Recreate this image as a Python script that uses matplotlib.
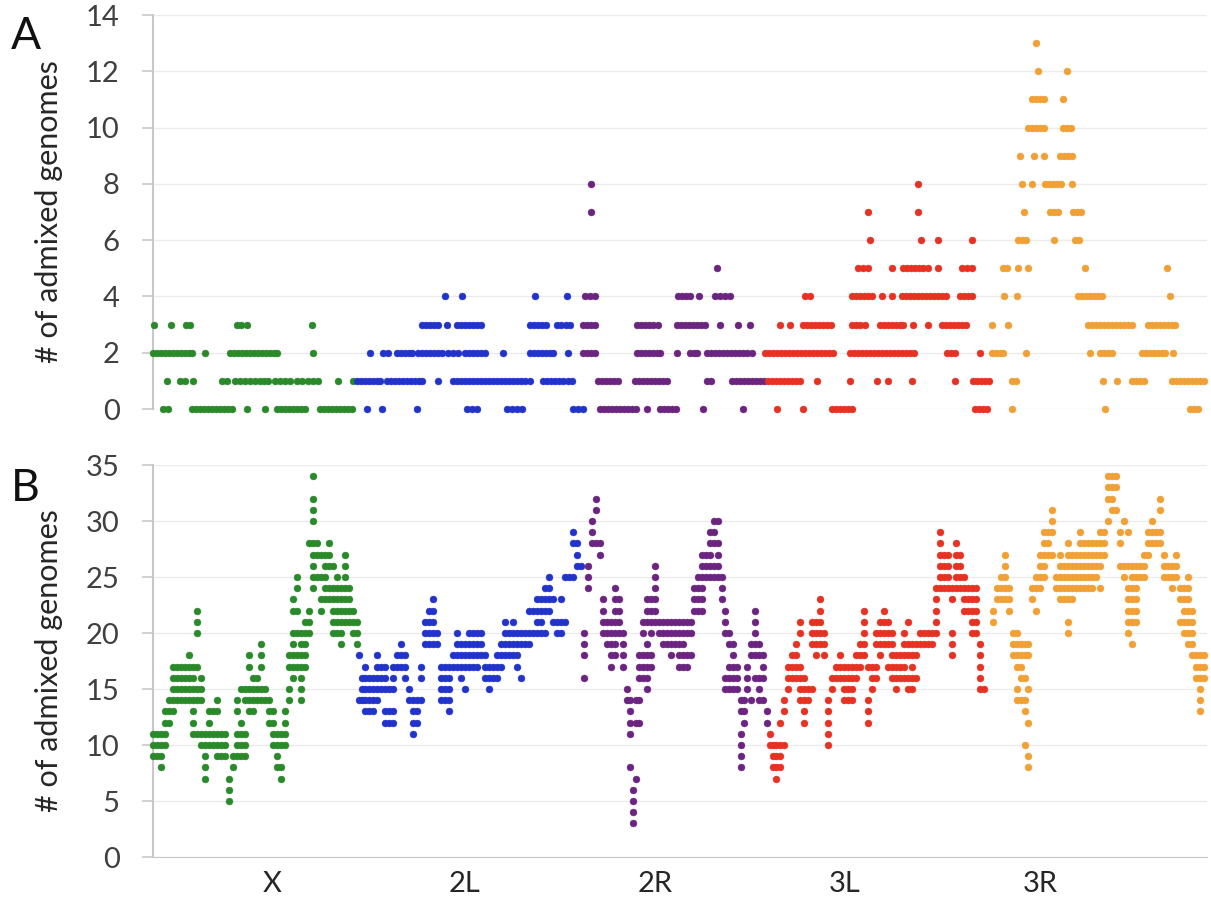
import matplotlib.pyplot as plt

plt.rcParams['font.family'] = ['Lato', 'DejaVu Sans']

chroms = ['X', '2L', '2R', '3L', '3R']
colors = ['#2a8a2a', '#2233cc', '#6b2480', '#e63222', '#f0a035']
tick_pos = [272, 465, 655, 845, 1040]

# panel A: (number of admixed genomes, window positions)
a_X = [
    (3, [154, 171, 186, 190, 237, 241, 247, 312]),
    (2, [153, 157, 161, 165, 169, 173, 177, 181, 185, 189, 192, 205, 230, 234, 238, 242, 246, 250,
         254, 258, 262, 266, 270, 274, 277, 313]),
    (1, [167, 180, 185, 193, 222, 227, 235, 240, 245, 250, 255, 260, 264, 268, 275, 280, 285, 290,
         297, 302, 308, 313, 318, 338, 353]),
    (0, [163, 168, 192, 196, 200, 204, 208, 212, 216, 220, 224, 228, 232, 247, 265, 277, 281, 285,
         289, 293, 297, 301, 305, 320, 324, 328, 332, 336, 340, 344, 348, 352]),
]
a_2L = [
    (4, [445, 462, 535, 567]),
    (3, [422, 426, 430, 434, 438, 447, 457, 461, 465, 469, 473, 477, 481, 530, 534, 538, 542, 546,
         557, 561, 566, 570]),
    (2, [370, 383, 388, 397, 401, 405, 409, 412, 418, 422, 426, 430, 434, 438, 442, 448, 453, 458,
         465, 469, 473, 477, 481, 485, 503, 530, 534, 538, 542, 546, 550, 553, 568]),
    (1, [357, 361, 365, 369, 373, 377, 380, 387, 391, 395, 399, 403, 407, 411, 415, 419, 422, 438,
         453, 457, 461, 465, 469, 473, 477, 481, 485, 489, 493, 497, 501, 505, 509, 513, 517, 521,
         525, 530, 543, 547, 551, 555, 559, 563, 568, 572]),
    (0, [367, 382, 417, 467, 472, 477, 507, 512, 517, 522, 573, 578, 583]),
]
a_2R = [
    (8, [591]),
    (7, [591]),
    (5, [717]),
    (4, [585, 590, 595, 678, 682, 686, 690, 699, 715, 720, 725, 730]),
    (3, [583, 587, 591, 595, 637, 641, 645, 649, 653, 658, 677, 681, 685, 689, 693, 697, 701, 705,
         720, 738, 750]),
    (2, [583, 587, 591, 595, 637, 641, 645, 649, 653, 657, 660, 677, 690, 694, 697, 707, 711, 715,
         719, 723, 727, 731, 735, 739, 743, 747, 752]),
    (1, [598, 602, 606, 610, 614, 618, 635, 639, 643, 647, 651, 655, 659, 663, 667, 707, 711, 732,
         736, 740, 744, 748, 752, 756, 760, 764]),
    (0, [600, 604, 608, 612, 616, 620, 624, 628, 632, 636, 647, 660, 664, 668, 672, 676, 703, 743]),
]
a_3L = [
    (8, [918]),
    (7, [868, 918]),
    (6, [870, 921, 938, 972]),
    (5, [858, 863, 868, 892, 903, 907, 911, 915, 919, 923, 928, 938, 962, 967, 972]),
    (4, [805, 810, 852, 856, 860, 864, 868, 872, 882, 892, 902, 906, 910, 914, 918, 922, 926, 930,
         934, 938, 942, 946, 960, 964, 968, 972]),
    (3, [780, 790, 803, 807, 811, 815, 819, 823, 827, 831, 852, 856, 860, 865, 880, 884, 888, 892,
         896, 900, 903, 913, 928, 942, 946, 950, 954, 958, 962, 966]),
    (2, [765, 769, 773, 777, 781, 785, 789, 793, 797, 801, 805, 809, 813, 817, 821, 825, 829, 833,
         850, 854, 858, 862, 866, 870, 874, 878, 882, 886, 890, 894, 898, 902, 906, 910, 914, 947,
         951, 955, 980]),
    (1, [768, 772, 776, 780, 784, 788, 792, 796, 800, 817, 850, 877, 888, 912, 955, 973, 977, 981,
         985, 989]),
    (0, [777, 803, 832, 836, 840, 844, 848, 852, 975, 979, 983, 987]),
]
a_3R = [
    (13, [1036]),
    (12, [1038, 1067]),
    (11, [1032, 1036, 1040, 1044, 1063]),
    (10, [1028, 1032, 1036, 1040, 1044, 1063, 1067, 1071]),
    (9, [1020, 1034, 1044, 1060, 1064, 1068, 1072]),
    (8, [1022, 1032, 1045, 1049, 1053, 1057, 1061, 1072]),
    (7, [1024, 1050, 1054, 1058, 1073, 1077, 1081]),
    (6, [1018, 1022, 1026, 1054, 1075, 1079]),
    (5, [1003, 1007, 1018, 1028, 1085, 1167]),
    (4, [1004, 1017, 1078, 1082, 1086, 1090, 1094, 1098, 1102, 1170]),
    (3, [992, 1008, 1088, 1092, 1096, 1100, 1104, 1108, 1112, 1116, 1120, 1124, 1128, 1132, 1148,
         1152, 1156, 1160, 1164, 1168, 1172, 1175]),
    (2, [992, 996, 1000, 1003, 1026, 1090, 1100, 1104, 1108, 1112, 1142, 1146, 1150, 1154, 1158,
         1162, 1165, 1173]),
    (1, [1012, 1016, 1103, 1117, 1132, 1136, 1140, 1144, 1172, 1176, 1180, 1184, 1188, 1192, 1196,
         1200, 1204]),
    (0, [1012, 1105, 1190, 1194, 1198]),
]

# panel B: (window position, numbers of admixed genomes)
b_X = [
    (153, [11, 10, 9]), (157, [11, 10, 9]), (161, [11, 10, 9, 8]), (165, [13, 12, 11, 10]),
    (169, [14, 13, 12]), (173, [17, 16, 15, 14, 13]), (177, [17, 16, 15, 14]), (181, [17, 16, 15, 14]),
    (185, [17, 16, 15, 14]), (189, [18, 17, 16, 15, 14]), (193, [17, 16, 15, 14, 13, 12, 11]),
    (197, [22, 21, 20, 17, 15, 14, 11]), (201, [16, 15, 14, 11, 10]), (205, [11, 10, 9, 8, 7]),
    (209, [13, 12, 11, 10]), (213, [13, 11, 10]), (217, [14, 13, 11, 10, 9]), (221, [11, 10, 9]),
    (225, [11, 10, 9]), (229, [7, 6, 5]), (233, [9, 8]), (237, [14, 13, 11, 10, 9]),
    (241, [15, 12, 11, 10, 9]), (245, [15, 14, 11, 10, 9]), (249, [18, 17, 15, 14, 13]),
    (253, [16, 15, 14, 13]), (257, [16, 15, 14]), (261, [19, 18, 17, 15, 14]), (265, [15, 14]),
    (269, [14, 13, 12]), (273, [13, 12, 11, 10]), (277, [11, 10, 9, 8]), (281, [11, 10, 8, 7]),
    (285, [13, 12, 11, 10]), (289, [18, 17, 15, 14]), (293, [23, 22, 20, 19, 18, 17, 16]),
    (297, [25, 24, 22, 20, 18, 17]), (301, [20, 19, 18, 17, 16, 15, 14]), (305, [21, 20, 19, 18, 17]),
    (309, [28, 22, 21, 20]), (313, [34, 32, 31, 30, 28, 27, 26, 25, 24]), (317, [28, 27, 25]),
    (321, [27, 25, 23, 22]), (325, [27, 26, 25, 24, 23]), (329, [28, 27, 26, 24, 23]),
    (333, [26, 24, 23, 22, 21, 20]), (337, [25, 24, 23, 22, 21, 20]), (341, [24, 23, 22, 21, 20, 19]),
    (345, [27, 26, 25, 24, 23, 22, 21]), (349, [24, 23, 22, 21]), (353, [22, 21, 20]), (357, [21, 20, 19]),
]
b_2L = [
    (359, [18, 14]), (362, [16, 15, 14]), (365, [17, 16, 15, 14, 13]), (369, [16, 15, 14, 13]),
    (373, [16, 15, 14, 13]), (377, [18, 17, 16, 15, 14]), (381, [17, 16, 15]), (385, [17, 16, 15, 13, 12]),
    (389, [15, 13, 12]), (393, [17, 16, 15, 13, 12]), (397, [18, 17]), (401, [19, 18, 17]),
    (405, [18, 17, 16]), (409, [15, 14]), (413, [14, 13, 12, 11]), (417, [14, 13, 12]),
    (421, [17, 16, 14]), (425, [21, 20, 19]), (429, [22, 21, 20, 19]), (433, [23, 22, 21, 20, 19]),
    (437, [20, 19]), (441, [17, 16, 15, 14]), (445, [17, 16, 15, 14]), (449, [17, 16, 15, 14, 13]),
    (453, [18, 17]), (457, [20, 19, 18, 17]), (461, [19, 18, 17, 16]), (465, [19, 18, 17, 15]),
    (469, [20, 19, 18, 17]), (473, [20, 19, 18, 17]), (477, [20, 19, 18, 17]), (481, [20, 19, 18]),
    (485, [18, 17, 16]), (489, [17, 16, 15]), (493, [17, 16]), (497, [18, 17, 16]), (501, [19, 18, 17]),
    (505, [21, 20, 19, 18]), (509, [20, 19, 18]), (513, [21, 20, 19, 18]), (517, [20, 19, 18, 17]),
    (521, [20, 19, 16]), (525, [20, 19]), (529, [22, 20, 19]), (533, [22, 20]), (537, [23, 22, 21, 20]),
    (541, [23, 22, 21, 20]), (545, [24, 23, 22, 20]), (549, [25, 24, 23, 22]), (553, [23, 21]),
    (557, [21, 20]), (561, [23, 21, 20]), (565, [25, 21]), (569, [25]), (573, [29, 28, 25]),
    (577, [28, 27, 26]), (581, [26]),
]
b_2R = [
    (584, [20, 19, 18, 16]), (588, [26, 25, 24]), (592, [30, 29, 28]), (596, [32, 31, 28]),
    (600, [28, 27]), (603, [23, 22, 21, 20]), (607, [21, 20, 19]), (611, [21, 20, 19, 18, 17]),
    (615, [24, 23, 22, 21, 20, 19, 18]), (619, [23, 22, 21, 20]), (623, [20, 19, 18, 17]),
    (627, [15, 14]), (630, [14, 13, 12, 11, 8]), (633, [6, 5, 4, 3]), (636, [14, 12, 7]),
    (639, [18, 17, 16, 14, 12]), (643, [21, 20, 18, 17, 16]), (647, [23, 22, 21, 19, 18, 17, 16, 15]),
    (651, [23, 22, 21, 20, 18, 17]), (655, [26, 25, 24, 23, 22, 21]), (659, [21, 20]),
    (663, [21, 20, 19]), (667, [21, 20, 19]), (671, [21, 20, 19, 18]), (675, [21, 20, 19]),
    (679, [21, 20, 19, 18, 17]), (683, [21, 20, 19, 18, 17]), (687, [21, 20, 18, 17]),
    (691, [21, 20, 18]), (694, [24, 23, 22]), (698, [25, 24, 23, 22]), (702, [27, 26, 25, 24, 23, 22]),
    (706, [27, 26, 25]), (710, [29, 28, 27, 26, 25]), (714, [30, 29, 28, 26, 25]),
    (718, [30, 28, 27, 26, 25]), (722, [25, 24, 23]), (725, [22, 21, 20, 16, 15]),
    (729, [20, 19, 17, 16, 15]), (733, [19, 18, 17, 16, 15]), (737, [17, 16, 15]),
    (741, [14, 13, 11, 10, 9, 8]), (744, [14, 13, 12]), (747, [17, 16, 15]), (751, [19, 18, 14]),
    (755, [22, 21, 20, 19, 18, 16]), (759, [19, 18, 16, 15, 14]), (763, [18, 17, 16, 14]),
    (767, [13, 12]),
]
b_3L = [
    (770, [11, 10]), (773, [10, 9, 8]), (776, [10, 9, 8, 7]), (780, [12, 10, 9, 8]), (784, [14, 13, 10]),
    (788, [17, 16, 15]), (792, [18, 17, 16]), (796, [19, 18, 17, 16]), (800, [21, 20, 17, 16, 15, 14]),
    (804, [16, 15, 14, 13, 12]), (808, [15, 14]), (812, [21, 20, 19, 15]), (816, [21, 20, 19, 18]),
    (820, [23, 22, 21, 20, 19]), (824, [20, 19, 18]), (828, [14, 13, 12, 11, 10]), (832, [16, 15]),
    (836, [17, 16]), (840, [18, 17, 16]), (844, [17, 16, 15, 14]), (848, [17, 16, 15, 14]),
    (852, [17, 16, 15, 14]), (856, [18, 17, 16]), (860, [19, 18, 17]), (864, [22, 21, 20, 19, 18]),
    (868, [17, 14, 13, 12]), (872, [17, 16, 15]), (876, [20, 19, 17, 16]), (880, [21, 20, 19, 18]),
    (884, [22, 21, 20, 19]), (888, [21, 20, 19, 17]), (892, [20, 19, 18, 17, 16]), (896, [18, 17, 16, 15]),
    (900, [18, 17, 16]), (904, [20, 19, 18, 17, 16]), (908, [21, 19, 18, 16, 15]),
    (912, [19, 18, 17, 16, 15]), (916, [19, 18, 16]), (920, [20, 19]), (924, [20, 19]), (928, [20, 19]),
    (932, [20, 19]), (936, [24, 23, 22, 21, 20]), (940, [29, 28, 27, 26, 25, 24]), (944, [27, 26, 25, 24]),
    (948, [27, 26, 25, 24]), (952, [24, 23, 20, 19, 18]), (956, [28, 27, 26, 25, 24]),
    (960, [27, 26, 25, 24]), (964, [25, 24, 23, 22]), (968, [24, 23, 22]), (972, [24, 23, 22, 21, 20]),
    (976, [24, 23, 22, 21, 20]), (980, [19, 18, 17, 16, 15]), (984, [15]),
]
b_3R = [
    (993, [22, 21]), (997, [24, 23]), (1001, [25, 24, 23]), (1005, [27, 26, 25, 24, 23]),
    (1009, [24, 23, 22]), (1013, [20, 19, 18]), (1017, [20, 19, 18, 17, 15, 14]),
    (1021, [19, 18, 17, 16, 14]), (1025, [19, 18, 16, 14, 13, 10]), (1028, [19, 18, 15, 12, 9, 8]),
    (1032, [24, 23]), (1036, [25, 24, 22]), (1040, [27, 26, 25, 24]), (1044, [29, 28, 27, 26, 25]),
    (1048, [29, 28, 27]), (1052, [31, 30, 29, 27]), (1056, [25, 24]), (1060, [27, 26, 25, 24, 23]),
    (1064, [26, 25, 24, 23]), (1068, [28, 27, 26, 25, 24, 23, 21, 20]), (1072, [27, 26, 25, 24, 23]),
    (1076, [27, 26, 25, 24]), (1080, [29, 28, 27, 26, 25, 24]), (1084, [28, 27, 26, 25, 24]),
    (1088, [28, 27, 26, 25, 24]), (1092, [28, 27, 26, 25, 24]), (1096, [28, 27, 26, 25]),
    (1100, [29, 28, 27, 26, 24]), (1104, [29, 28, 27]), (1108, [34, 33, 32, 30]), (1112, [34, 33, 32, 31]),
    (1116, [34, 33, 31]), (1120, [29, 28, 26]), (1124, [30, 26, 25]), (1128, [29, 26, 24, 23, 22, 21, 20]),
    (1132, [26, 25, 24, 23, 22, 21, 19]), (1136, [26, 25, 24, 23, 22, 21]), (1140, [26, 25]),
    (1144, [27, 26, 25]), (1148, [29, 28, 27]), (1152, [30, 29, 28]), (1156, [29, 28]),
    (1160, [32, 31, 29, 28]), (1164, [27, 26, 25]), (1168, [26, 25]), (1172, [26, 25, 24]),
    (1176, [27, 26, 25]), (1180, [24, 23, 21]), (1184, [24, 23, 22, 21, 20]),
    (1188, [25, 24, 23, 22, 21, 20, 19]), (1192, [22, 21, 20, 19, 18]), (1196, [18, 17, 16]),
    (1200, [18, 17, 16, 15, 14, 13]), (1204, [18, 17, 16]),
]

panel_a = [a_X, a_2L, a_2R, a_3L, a_3R]
panel_b = [b_X, b_2L, b_2R, b_3L, b_3R]

fig = plt.figure(figsize=(12.11, 9.05), dpi=100)
axA = fig.add_axes([153 / 1211, 1 - 409 / 905, 1054 / 1211, 394 / 905])
axB = fig.add_axes([153 / 1211, 1 - 857 / 905, 1054 / 1211, 392 / 905])

for rows, c in zip(panel_a, colors):
    xs, ys = [], []
    for v, pos in rows:
        xs += pos
        ys += [v] * len(pos)
    axA.plot(xs, ys, 'o', ms=5, color=c, mec=c, mew=0.3, clip_on=False, zorder=3)

for cols, c in zip(panel_b, colors):
    xs, ys = [], []
    for p, vals in cols:
        xs += [p] * len(vals)
        ys += vals
    axB.plot(xs, ys, 'o', ms=5, color=c, mec=c, mew=0.3, clip_on=False, zorder=3)

for ax, top in ((axA, 14), (axB, 35)):
    ax.set_xlim(153, 1207)
    ax.set_ylim(0, top)
    ax.set_yticks(range(0, top + 1, 2 if top == 14 else 5))
    ax.yaxis.grid(True, color='#ebebeb', lw=1)
    ax.set_axisbelow(True)
    for s in ('top', 'right', 'bottom'):
        ax.spines[s].set_visible(False)
    ax.spines['left'].set_color('#c8c8c8')
    ax.spines['left'].set_linewidth(1.5)
    ax.tick_params(axis='y', length=8, width=1.2, color='#c8c8c8', labelsize=21,
                   labelcolor='#404040', pad=16)
    ax.set_ylabel('# of admixed genomes', fontsize=22, color='#262626')
    ax.yaxis.set_label_coords(-0.085, 0.5)

axA.set_xticks([])
axB.spines['bottom'].set_visible(True)
axB.spines['bottom'].set_color('#c8c8c8')
axB.set_xticks(tick_pos)
axB.set_xticklabels(chroms)
axB.tick_params(axis='x', length=0, labelsize=21, labelcolor='#262626', pad=10)

fig.text(11 / 1211, 1 - 49 / 905, 'A', fontsize=32, color='#111111')
fig.text(11 / 1211, 1 - 501 / 905, 'B', fontsize=32, color='#111111')

plt.savefig('out.png', dpi=100)
